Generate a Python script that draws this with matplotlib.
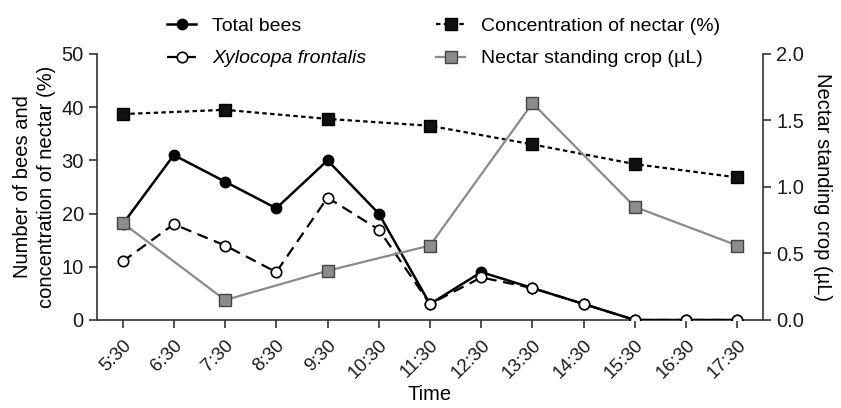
import numpy as np
import matplotlib
matplotlib.use("Agg")
import matplotlib.pyplot as plt

plt.rcParams["font.family"] = ["Liberation Sans", "DejaVu Sans"]
plt.rcParams["font.size"] = 14

# data
times = ["5:30", "6:30", "7:30", "8:30", "9:30", "10:30", "11:30",
         "12:30", "13:30", "14:30", "15:30", "16:30", "17:30"]
total_bees = [18, 31, 26, 21, 30, 20, 3, 9, 6, 3, 0, 0, 0]
xylocopa = [11, 18, 14, 9, 23, 17, 3, 8, 6, 3, 0, 0, 0]

nectar_times = ["5:30", "7:30", "9:30", "11:30", "13:30", "15:30", "17:30"]
nectar_conc = [38.7, 39.5, 37.8, 36.5, 33.0, 29.3, 26.8]
standing_crop = [0.73, 0.15, 0.37, 0.56, 1.63, 0.85, 0.56]

x = np.arange(len(times))
xn = np.array([times.index(t) for t in nectar_times])

fig = plt.figure(figsize=(8.41, 4.08), dpi=100)
ax = fig.add_axes([0.1153, 0.2157, 0.792, 0.652])
ax2 = ax.twinx()

spine_col = "#333333"

l1, = ax.plot(x, total_bees, color="black", lw=1.8, marker="o", ms=7.5,
              mfc="black", mec="black", zorder=3)
l2, = ax.plot(x, xylocopa, color="black", lw=1.6, ls=(0, (5, 3)), marker="o",
              ms=7.5, mfc="white", mec="black", mew=1.2, zorder=4)
l3, = ax.plot(xn, nectar_conc, color="black", lw=1.6, ls=(0, (2, 1.5)),
              marker="s", ms=8, mfc="#111111", mec="black", zorder=3)
l4, = ax2.plot(xn, standing_crop, color="#8a8a8a", lw=1.6, marker="s", ms=8,
               mfc="#8c8c8c", mec="#444444", mew=1.0, zorder=3)

ax.set_xlim(-0.5, 12.5)
ax.set_ylim(0, 50)
ax2.set_ylim(0, 2.0)
ax.set_yticks([0, 10, 20, 30, 40, 50])
ax2.set_yticks([0.0, 0.5, 1.0, 1.5, 2.0])
ax2.set_yticklabels(["0.0", "0.5", "1.0", "1.5", "2.0"])
ax.set_xticks(x)
ax.set_xticklabels(times, rotation=45, ha="right", rotation_mode="anchor")

for a in (ax, ax2):
    a.spines["top"].set_visible(False)
    for s in a.spines.values():
        s.set_color(spine_col)
        s.set_linewidth(1.2)
    a.tick_params(direction="out", length=6, width=1.2, color=spine_col,
                  labelsize=14.5, labelcolor="#1a1a1a")
ax.tick_params(axis="x", pad=6, labelsize=13.5)
ax.spines["right"].set_visible(False)
ax2.spines["left"].set_visible(False)
ax2.spines["bottom"].set_visible(False)

ax.set_xlabel("Time", fontsize=14.5, labelpad=2)
ax.set_ylabel("Number of bees and\nconcentration of nectar (%)", fontsize=14.5,
              labelpad=4, linespacing=1.35)
ax2.set_ylabel("Nectar standing crop (µL)", fontsize=14.5, rotation=270,
               labelpad=20)

handles = [l1, l2, l3, l4]
labels = ["Total bees", "Xylocopa frontalis",
          "Concentration of nectar (%)", "Nectar standing crop (µL)"]
leg = fig.legend(handles, labels, ncol=2, loc="upper left",
                 bbox_to_anchor=(0.178, 1.0), frameon=False, fontsize=14,
                 handlelength=1.5, handletextpad=0.8, columnspacing=3.6,
                 labelspacing=0.75)
leg.texts[1].set_fontstyle("italic")

fig.savefig("out.png", dpi=100)
